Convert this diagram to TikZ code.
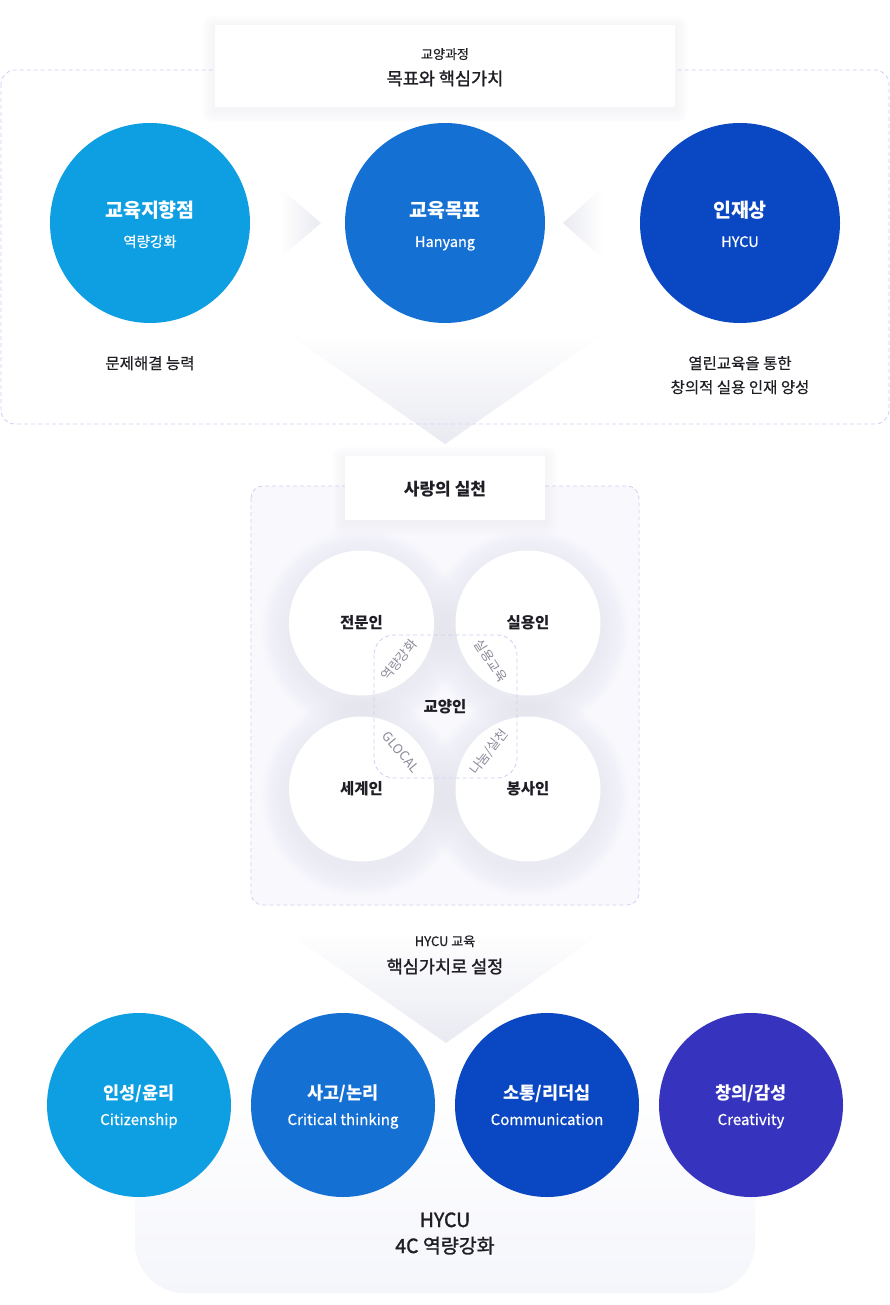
\documentclass[tikz,border=0pt]{standalone}
\usepackage{fontspec}
\setmainfont{Noto Sans CJK KR}
\newfontfamily\medfont{Noto Sans CJK KR}[FakeBold=1.4]
\newfontfamily\regfont{Noto Sans CJK KR}[FakeBold=0.5]
\usetikzlibrary{shapes.geometric}
\definecolor{c1}{HTML}{0E9FE3}
\definecolor{c2}{HTML}{1570D4}
\definecolor{c3}{HTML}{0A47C2}
\definecolor{c4}{HTML}{3634BF}
\definecolor{dashcol}{HTML}{CFCFF3}
\definecolor{txt}{HTML}{1E1E24}
\definecolor{tri}{HTML}{E9EAF1}
\definecolor{lbl}{HTML}{8A8A9A}
\definecolor{shad}{HTML}{D2D2EC}
\definecolor{boxbg}{HTML}{F5F6FB}
\definecolor{midbg}{HTML}{F9F9FD}
\begin{document}
\begin{tikzpicture}[x=1pt,y=-1pt,
  dashbox/.style={draw=dashcol, dash pattern=on 4pt off 3pt, line width=0.8pt},
  bigc/.style={circle, minimum size=200pt, inner sep=0pt},
  botc/.style={circle, minimum size=184pt, inner sep=0pt},
  wc/.style={circle, fill=white, minimum size=145pt, inner sep=0pt, text=txt, font=\fontsize{15.5}{18}\selectfont\bfseries},
  fixh/.style={text height=0.78em, text depth=0.18em, yshift=-4pt},
  ctitle/.style={fixh, text=white, font=\fontsize{19.5}{22}\selectfont\bfseries, inner sep=0pt},
  csub/.style={fixh, text=white, font=\fontsize{14.5}{17}\selectfont\regfont, inner sep=0pt},
  btitle/.style={fixh, text=white, font=\fontsize{17.5}{20}\selectfont\bfseries, inner sep=0pt},
  bsub/.style={fixh, text=white, font=\fontsize{15}{17}\selectfont\regfont, inner sep=0pt},
  small/.style={fixh, yshift=1pt, text=txt, font=\fontsize{13}{15}\selectfont\regfont, inner sep=0pt},
  head/.style={fixh, text=txt, font=\fontsize{17.5}{20}\selectfont\medfont, inner sep=0pt},
  body/.style={fixh, text=txt, font=\fontsize{15.5}{18}\selectfont\regfont, inner sep=0pt},
  arclbl/.style={text=lbl, font=\fontsize{13}{15}\selectfont, inner sep=0pt},
  tbox/.style={fill=white, inner sep=0pt}
]
\useasboundingbox (0,0) rectangle (890,1305);
\fill[white] (0,0) rectangle (890,1305);

% ---------- top section ----------
\shade[top color=white, bottom color=tri] (287,333) -- (605,333) -- (445,444) -- cycle;
\draw[dashbox, rounded corners=14pt] (1,70) rectangle (889,424);
\shade[left color=white, right color=tri] (280,188) -- (321,223) -- (280,258) -- cycle;
\shade[left color=tri, right color=white] (602,188) -- (563,223) -- (602,258) -- cycle;

\foreach \k in {1,...,8} {
  \fill[shad, opacity=0.022, rounded corners=\k pt] (215-\k*1.5, 25-\k*1.5+3) rectangle (675+\k*1.5, 107+\k*1.5+3);
}
\node[tbox, minimum width=460pt, minimum height=82pt] (title1) at (445,66) {};
\node[small] (t1a) at (445,53) {교양과정};
\node[head] (t1b) at (445,78) {목표와 핵심가치};

\node[bigc, fill=c1] (g1) at (150,223) {};
\node[bigc, fill=c2] (g2) at (445,223) {};
\node[bigc, fill=c3] (g3) at (740,223) {};
\node[ctitle] (g1t) at (150,211) {교육지향점};
\node[csub] (g1s) at (150,240) {역량강화};
\node[ctitle] (g2t) at (445,211) {교육목표};
\node[csub] (g2s) at (445,240) {Hanyang};
\node[ctitle] (g3t) at (740,211) {인재상};
\node[csub] (g3s) at (740,240) {HYCU};

\node[body] (d1) at (150,362) {문제해결 능력};
\node[body] (d3a) at (740,362) {열린교육을 통한};
\node[body] (d3b) at (740,386) {창의적 실용 인재 양성};

% ---------- middle section ----------
\fill[midbg, rounded corners=12pt] (251,486) rectangle (639,905);
\draw[dashbox, rounded corners=12pt] (251,486) rectangle (639,905);

\foreach \k in {1,...,8} {
  \fill[shad, opacity=0.022, rounded corners=\k pt] (345-\k*1.5, 456-\k*1.5+3) rectangle (545+\k*1.5, 520+\k*1.5+3);
}
\node[tbox, minimum width=200pt, minimum height=64pt] (title2) at (445,488) {};
\node[fixh, text=txt, font=\fontsize{17}{20}\selectfont\bfseries, inner sep=0pt] (t2) at (445,488) {사랑의 실천};

\foreach \x/\y in {361.5/623, 528/623, 361.5/789, 528/789} {
  \foreach \k in {1,...,11} {
    \fill[shad, opacity=0.03] (\x,\y+7) circle[radius=72.5pt+\k*2.6pt];
  }
}
\node[wc] (m1) at (361.5,623) {전문인};
\node[wc] (m2) at (528,623) {실용인};
\node[wc] (m3) at (361.5,789) {세계인};
\node[wc] (m4) at (528,789) {봉사인};

\draw[dashbox, rounded corners=20pt] (374,635) rectangle (517,778);
\node[text=txt, font=\fontsize{15.5}{18}\selectfont\bfseries, inner sep=0pt] (core) at (445,707) {교양인};
\node[arclbl, rotate=50] (a1) at (399,660) {역량강화};
\node[arclbl, rotate=-57] (a2) at (491,661) {실용교육};
\node[arclbl, rotate=-50] (a3) at (401,752) {GLOCAL};
\node[arclbl, rotate=52] (a4) at (489,752) {나눔/실천};

% ---------- bottom section ----------
\shade[top color=white, bottom color=tri] (287,932) -- (603,932) -- (446,1043) -- cycle;
\node[small] (t3a) at (445,940) {HYCU 교육};
\node[head] (t3b) at (445,966) {핵심가치로 설정};

\shade[top color=white, bottom color=boxbg, rounded corners=50pt] (135,1080) rectangle (755,1293);

\node[botc, fill=c1] (b1) at (139,1105) {};
\node[botc, fill=c2] (b2) at (343,1105) {};
\node[botc, fill=c3] (b3) at (547,1105) {};
\node[botc, fill=c4] (b4) at (751,1105) {};
\node[btitle] (b1t) at (139,1092) {인성/윤리};
\node[bsub] (b1s) at (139,1118) {Citizenship};
\node[btitle] (b2t) at (343,1092) {사고/논리};
\node[bsub] (b2s) at (343,1118) {Critical thinking};
\node[btitle] (b3t) at (547,1092) {소통/리더십};
\node[bsub] (b3s) at (547,1118) {Communication};
\node[btitle] (b4t) at (751,1092) {창의/감성};
\node[bsub] (b4s) at (751,1118) {Creativity};

\node[fixh, text=txt, font=\fontsize{19.5}{22}\selectfont\medfont, inner sep=0pt] (h1) at (445,1220) {HYCU};
\node[fixh, text=txt, font=\fontsize{19.5}{22}\selectfont\medfont, inner sep=0pt] (h2) at (445,1246) {4C 역량강화};
\end{tikzpicture}
\end{document}
